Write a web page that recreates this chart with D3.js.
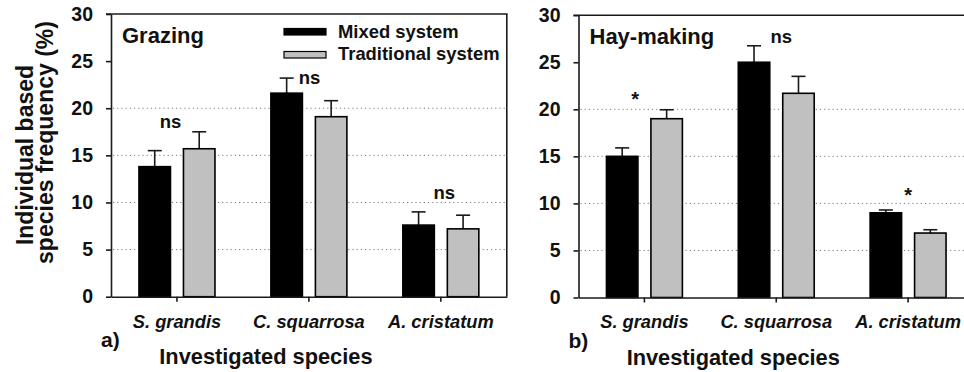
<!DOCTYPE html>
<html>
<head>
<meta charset="utf-8">
<script src="https://cdn.jsdelivr.net/npm/d3@7"></script>
<style>
  html, body { margin: 0; padding: 0; background: #fff; }
  svg { display: block; }
  text { font-family: "Liberation Sans", Arial, Helvetica, sans-serif; font-weight: bold; fill: #111; }
</style>
</head>
<body>
<svg id="chart" width="964" height="372"></svg>
<script>
// ---------- data ----------
const species = ["S. grandis", "C. squarrosa", "A. cristatum"];
const seriesNames = ["Mixed system", "Traditional system"];
const yTicks = [0, 5, 10, 15, 20, 25, 30];
const gridValues = [5, 10, 15, 20];

// Grazing (panel a)
const grazingMixed = [13.8, 21.6, 7.6];
const grazingMixedErr = [1.7, 1.6, 1.4];
const grazingTrad = [15.7, 19.1, 7.2];
const grazingTradErr = [1.8, 1.7, 1.45];
const grazingSig = ["ns", "ns", "ns"];
const grazingSigLevel = [17.9, 22.6, 10.4];

// Hay-making (panel b)
const hayMixed = [15.0, 25.0, 9.0];
const hayMixedErr = [0.9, 1.75, 0.3];
const hayTrad = [19.0, 21.7, 6.85];
const hayTradErr = [0.95, 1.8, 0.35];
const haySig = ["*", "ns", "*"];
const haySigLevel = [20.3, 27.0, 10.1];

// ---------- drawing ----------
const svg = d3.select("#chart");
const FILL = ["#000000", "#c0c0c0"];
const AX = "#1a1a1a";

function drawPanel(p) {
  const g = svg.append("g");
  const x = d3.scaleBand().domain(species).range([p.left, p.right]).padding(0);
  const y = d3.scaleLinear().domain([0, 30]).range([p.bottom, p.top]);
  const half = x.bandwidth() * 0.288;
  const x1 = d3.scaleBand().domain(seriesNames).range([-half, half]).paddingInner(0.292);

  // grid
  g.selectAll("line.grid").data(gridValues).enter().append("line")
    .attr("x1", p.left + 2).attr("x2", Math.min(p.right, 964))
    .attr("y1", d => y(d)).attr("y2", d => y(d))
    .attr("stroke", "#7a7a7a").attr("stroke-width", 1)
    .attr("stroke-dasharray", "1.2,3");

  // bars
  const rows = [];
  species.forEach((s, i) => {
    rows.push({ s, k: seriesNames[0], v: p.mixed[i], e: p.mixedErr[i], c: FILL[0] });
    rows.push({ s, k: seriesNames[1], v: p.trad[i], e: p.tradErr[i], c: FILL[1] });
  });
  const cx = d => x(d.s) + x.bandwidth() / 2 + x1(d.k);

  // error bars
  g.selectAll("line.err").data(rows).enter().append("line")
    .attr("x1", d => cx(d) + x1.bandwidth() / 2).attr("x2", d => cx(d) + x1.bandwidth() / 2)
    .attr("y1", d => y(d.v)).attr("y2", d => y(d.v + d.e))
    .attr("stroke", AX).attr("stroke-width", 1.6);
  g.selectAll("line.cap").data(rows).enter().append("line")
    .attr("x1", d => cx(d) + x1.bandwidth() / 2 - 7).attr("x2", d => cx(d) + x1.bandwidth() / 2 + 7)
    .attr("y1", d => y(d.v + d.e)).attr("y2", d => y(d.v + d.e))
    .attr("stroke", AX).attr("stroke-width", 1.6);

  g.selectAll("rect.bar").data(rows).enter().append("rect")
    .attr("x", d => cx(d)).attr("width", x1.bandwidth())
    .attr("y", d => y(d.v)).attr("height", d => y(0) - y(d.v))
    .attr("fill", d => d.c).attr("stroke", "#000").attr("stroke-width", 1.6);

  // significance labels
  g.selectAll("text.sig").data(species).enter().append("text")
    .attr("x", (d, i) => x(d) + x.bandwidth() / 2 + p.sigDx[i])
    .attr("y", (d, i) => y(p.sigLevel[i]))
    .attr("text-anchor", "middle")
    .style("font-size", (d, i) => p.sig[i] === "*" ? "20px" : "18.5px")
    .text((d, i) => p.sig[i]);

  // y axis
  const ya = g.append("g").attr("transform", `translate(${p.left},0)`)
    .call(d3.axisLeft(y).tickValues(yTicks).tickSize(5).tickSizeOuter(0).tickPadding(13));
  ya.select(".domain").attr("stroke", AX).attr("stroke-width", 1.6);
  ya.selectAll(".tick line").attr("stroke", AX).attr("stroke-width", 1.6);
  ya.selectAll(".tick text").style("font-size", "19.5px").attr("fill", "#111")
    .style("font-family", '"Liberation Sans", Arial, sans-serif').style("font-weight", "bold");

  // x axis
  const xa = g.append("g").attr("transform", `translate(0,${p.bottom})`)
    .call(d3.axisBottom(x).tickSize(5).tickSizeOuter(0).tickPadding(13));
  xa.select(".domain").attr("stroke", AX).attr("stroke-width", 1.6);
  xa.selectAll(".tick line").attr("stroke", AX).attr("stroke-width", 1.6);
  xa.selectAll(".tick text").style("font-size", "18.3px").style("font-style", "italic")
    .style("font-family", '"Liberation Sans", Arial, sans-serif').style("font-weight", "bold").attr("fill", "#111");

  // frame
  g.append("line").attr("x1", p.left - 5).attr("x2", Math.min(p.right, 964) + 0.8)
    .attr("y1", p.top).attr("y2", p.top).attr("stroke", AX).attr("stroke-width", 1.6);
  if (p.right < 964) {
    g.append("line").attr("x1", p.right).attr("x2", p.right)
      .attr("y1", p.top).attr("y2", p.bottom).attr("stroke", AX).attr("stroke-width", 1.6);
  }

  // panel title
  g.append("text").attr("x", p.left + 11).attr("y", p.top + 29)
    .style("font-size", "22px").text(p.title);

  // panel letter and x title
  g.append("text").attr("x", p.left - 10).attr("y", p.bottom + 50)
    .style("font-size", "21px").text(p.letter);
  g.append("text").attr("x", (p.left + Math.min(p.right, 974)) / 2 - 43).attr("y", p.bottom + 67.5)
    .attr("text-anchor", "middle").style("font-size", "21.8px").text("Investigated species");
}

drawPanel({
  left: 111, right: 506.8, top: 14, bottom: 296.7,
  mixed: grazingMixed, mixedErr: grazingMixedErr, trad: grazingTrad, tradErr: grazingTradErr,
  sig: grazingSig, sigLevel: grazingSigLevel, sigDx: [-6.5, 0.6, 3.5],
  title: "Grazing", letter: "a)"
});
drawPanel({
  left: 578.5, right: 974, top: 15.2, bottom: 297.5,
  mixed: hayMixed, mixedErr: hayMixedErr, trad: hayTrad, tradErr: hayTradErr,
  sig: haySig, sigLevel: haySigLevel, sigDx: [-9.3, 5, 0],
  title: "Hay-making", letter: "b)"
});

// legend
const leg = svg.append("g");
seriesNames.forEach((n, i) => {
  leg.append("rect").attr("x", 284).attr("y", 28.5 + i * 23).attr("width", 42).attr("height", 6.5)
    .attr("fill", FILL[i]).attr("stroke", "#000").attr("stroke-width", 1.2);
  leg.append("text").attr("x", 338).attr("y", 37.5 + i * 22.7).style("font-size", "18.4px").text(n);
});

// y axis title
const yt = svg.append("g");
yt.append("text").attr("transform", "translate(33,155) rotate(-90)")
  .attr("text-anchor", "middle").style("font-size", "23px").text("Individual based");
yt.append("text").attr("transform", "translate(53,142.5) rotate(-90)")
  .attr("text-anchor", "middle").style("font-size", "23px").text("species frequency (%)");
</script>
</body>
</html>
